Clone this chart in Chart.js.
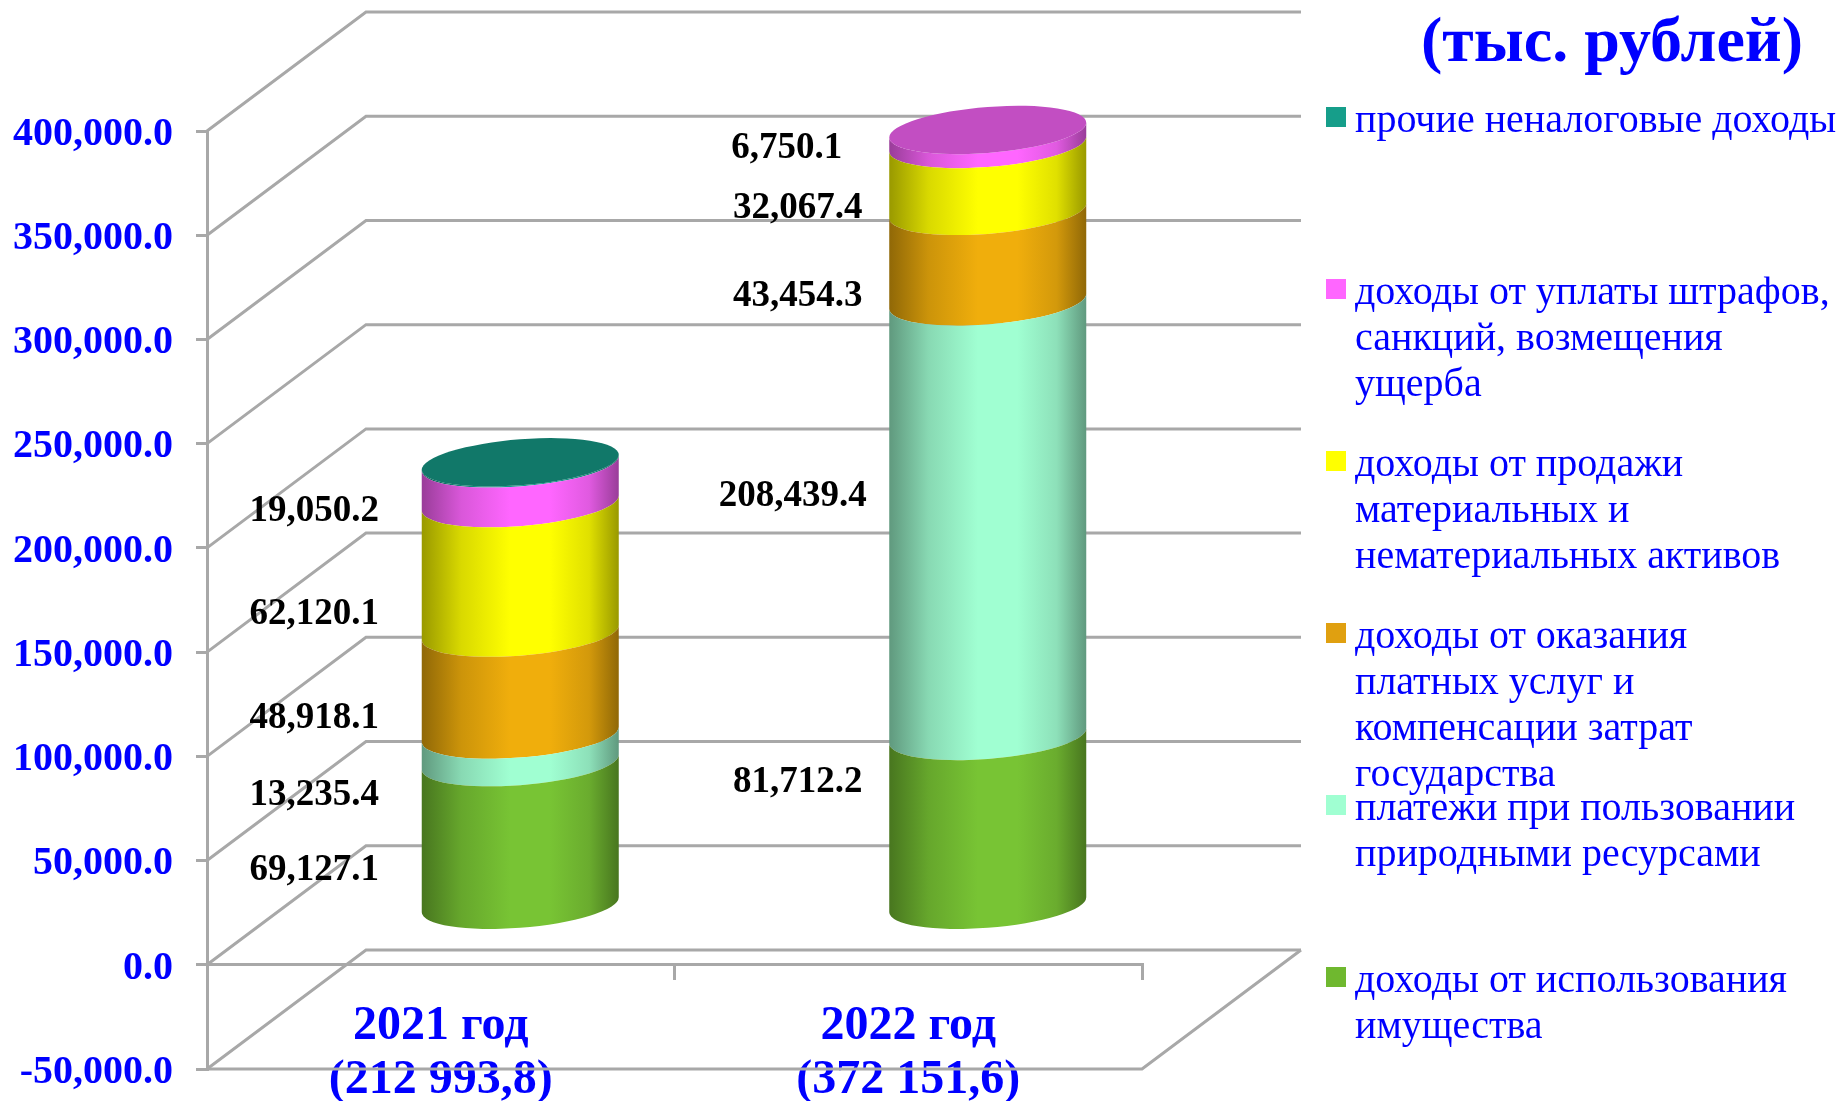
<!DOCTYPE html>
<html lang="ru">
<head>
<meta charset="utf-8">
<title>Неналоговые доходы</title>
<script src="https://cdn.jsdelivr.net/npm/chart.js@4/dist/chart.umd.min.js"></script>
<style>
    body { margin: 0; background: #fff; }
    canvas { display: block; }
</style>
</head>
<body>
<canvas id="chart" width="1840" height="1101"></canvas>
<script>
// Data, stacked bottom to top
const categories = [['2021 год', '(212 993,8)'], ['2022 год', '(372 151,6)']];
const imushchestvo = [69127.1, 81712.2];
const platezhi = [13235.4, 208439.4];
const uslugi = [48918.1, 43454.3];
const prodazha = [62120.1, 32067.4];
const shtrafy = [19050.2, 6750.1];
const prochie = [542.9, null];

const seriesNames = [
    'доходы от использования имущества',
    'платежи при пользовании природными ресурсами',
    'доходы от оказания платных услуг и компенсации затрат государства',
    'доходы от продажи материальных и нематериальных активов',
    'доходы от уплаты штрафов, санкций, возмещения ущерба',
    'прочие неналоговые доходы'
];
const seriesValues = [imushchestvo, platezhi, uslugi, prodazha, shtrafy, prochie];
const seriesColors = ['#78c434', '#a0ffd2', '#f0ae0c', '#ffff00', '#ff66ff', '#169e8a'];
const markerColors = ['#6fb82f', '#a0ffd2', '#e0a010', '#ffff00', '#ff66ff', '#169e8a'];

// legend lines, top entry first
const legendLines = [
    ['прочие неналоговые доходы'],
    ['доходы от уплаты штрафов,', 'санкций, возмещения', 'ущерба'],
    ['доходы от продажи', 'материальных и', 'нематериальных активов'],
    ['доходы от оказания', 'платных услуг и', 'компенсации затрат', 'государства'],
    ['платежи при пользовании', 'природными ресурсами'],
    ['доходы от использования', 'имущества']
];
const legendColors = [5, 4, 3, 2, 1, 0].map(i => markerColors[i]);
const unitsTitle = '(тыс. рублей)';

// where each value label sits relative to the middle of its segment
const labelShiftX = [[-206, -206, -206, -206, -206], [-190, -195, -190, -190, -201]];
const labelShiftY = [[37, 47, 35, 47, 28], [-38, -22, 40, 31, 11]];

const depthX = 159;
const depthY = -119;
const barShiftX = depthX / 2;
const barShiftY = depthY / 2 + 1;
const lidRadiusY = 23;
const gridColor = '#a8a8a8';
const serif = '"Liberation Serif", "Times New Roman", serif';

function shade(hex, f) {
    const n = parseInt(hex.slice(1), 16);
    return `rgb(${((n >> 16) & 255) * f},${((n >> 8) & 255) * f},${(n & 255) * f})`;
}

// front half of the tilted ellipse, added to the current path
function frontArc(ctx, cx, cy, a, leftToRight) {
    ctx.save();
    ctx.transform(1, -0.076, 0, 1, cx, cy);
    if (leftToRight) {
        ctx.ellipse(0, 0, a, lidRadiusY, 0, Math.PI, 0, true);
    } else {
        ctx.ellipse(0, 0, a, lidRadiusY, 0, 0, Math.PI);
    }
    ctx.restore();
}

// the axes must not reserve room for labels that overhang the plot
function noOverhang(scale) {
    scale.paddingTop = 0;
    scale.paddingBottom = 0;
    scale.paddingLeft = 0;
    scale.paddingRight = 0;
}

const wallsPlugin = {
    id: 'walls',
    beforeDatasetsDraw(chart) {
        const { ctx, chartArea: area, scales: { y } } = chart;
        ctx.save();
        ctx.strokeStyle = gridColor;
        ctx.lineWidth = 3;
        y.ticks.forEach(tick => {
            const py = y.getPixelForValue(tick.value);
            ctx.beginPath();
            ctx.moveTo(area.left, py);
            ctx.lineTo(area.left + depthX, py + depthY);
            ctx.lineTo(area.right + depthX, py + depthY);
            ctx.stroke();
        });
        const floorY = y.getPixelForValue(y.min);
        ctx.beginPath();
        ctx.moveTo(area.left, floorY);
        ctx.lineTo(area.right, floorY);
        ctx.lineTo(area.right + depthX, floorY + depthY);
        ctx.stroke();
        ctx.restore();
    }
};

const cylinderPlugin = {
    id: 'cylinder',
    beforeDatasetDraw(chart, args) {
        const ctx = chart.ctx;
        const color = seriesColors[args.index];
        args.meta.data.forEach((bar, i) => {
            if (seriesValues[args.index][i] === null) return;
            const a = bar.width / 2;
            const cx = bar.x + barShiftX;
            const g = ctx.createLinearGradient(cx - a, 0, cx + a, 0);
            g.addColorStop(0, shade(color, 0.6));
            g.addColorStop(0.2, shade(color, 0.85));
            g.addColorStop(0.45, shade(color, 1));
            g.addColorStop(0.65, shade(color, 1));
            g.addColorStop(0.85, shade(color, 0.88));
            g.addColorStop(1, shade(color, 0.6));
            ctx.beginPath();
            frontArc(ctx, cx, bar.base + barShiftY, a, false);
            frontArc(ctx, cx, bar.y + barShiftY, a, true);
            ctx.closePath();
            ctx.fillStyle = g;
            ctx.fill();
        });
        return false;
    },
    afterDatasetsDraw(chart) {
        const ctx = chart.ctx;
        categories.forEach((c, i) => {
            // lid takes the colour of the topmost series that has a value
            let top = seriesValues.length - 1;
            while (seriesValues[top][i] === null) top--;
            const bar = chart.getDatasetMeta(top).data[i];
            ctx.save();
            ctx.transform(1, -0.076, 0, 1, bar.x + barShiftX, bar.y + barShiftY);
            ctx.beginPath();
            ctx.ellipse(0, 0, bar.width / 2, lidRadiusY, 0, 0, Math.PI * 2);
            ctx.fillStyle = shade(seriesColors[top], 0.76);
            ctx.fill();
            ctx.restore();
        });
    }
};

const textPlugin = {
    id: 'texts',
    afterDraw(chart) {
        const ctx = chart.ctx;
        ctx.save();
        ctx.textBaseline = 'middle';

        // value labels
        ctx.textAlign = 'center';
        ctx.fillStyle = '#000';
        ctx.font = `bold 37px ${serif}`;
        categories.forEach((c, i) => {
            seriesValues.slice(0, 5).forEach((values, s) => {
                const bar = chart.getDatasetMeta(s).data[i];
                const text = values[i].toLocaleString('en-US', { minimumFractionDigits: 1 });
                ctx.fillText(text, bar.x + barShiftX + labelShiftX[i][s],
                    (bar.y + bar.base) / 2 + barShiftY + labelShiftY[i][s]);
            });
        });

        // units
        ctx.fillStyle = '#0000ff';
        ctx.font = `bold 64px ${serif}`;
        ctx.fillText(unitsTitle, 1612, 44);

        // legend
        ctx.textAlign = 'left';
        ctx.font = `40px ${serif}`;
        legendLines.forEach((lines, i) => {
            const y = 117 + i * 172;
            ctx.fillStyle = legendColors[i];
            ctx.fillRect(1326, y - 10, 20, 20);
            ctx.fillStyle = '#0000ff';
            lines.forEach((line, l) => ctx.fillText(line, 1355, y + 4 + l * 46));
        });
        ctx.restore();
    }
};

new Chart(document.getElementById('chart'), {
    type: 'bar',
    data: {
        labels: categories,
        datasets: seriesNames.map((name, i) => ({
            label: name,
            data: seriesValues[i],
            backgroundColor: seriesColors[i],
            barPercentage: 0.4214,
            categoryPercentage: 1
        }))
    },
    options: {
        responsive: false,
        animation: false,
        layout: { padding: { top: 131, right: 698, bottom: 32, left: 0 } },
        plugins: { legend: { display: false }, title: { display: false }, tooltip: { enabled: false } },
        scales: {
            x: {
                stacked: true,
                position: { y: 0 },
                afterFit(scale) { scale.height = 0; noOverhang(scale); },
                grid: { drawOnChartArea: false, color: gridColor, lineWidth: 3, tickLength: 14 },
                border: { color: gridColor, width: 3 },
                ticks: {
                    color: '#0000ff',
                    padding: 21,
                    maxRotation: 0,
                    autoSkip: false,
                    font: { family: serif, size: 48, weight: 'bold', lineHeight: 1.125 }
                }
            },
            y: {
                stacked: true,
                min: -50000,
                max: 400000,
                afterFit(scale) { scale.width = 207; noOverhang(scale); },
                grid: { drawOnChartArea: false, color: gridColor, lineWidth: 3, tickLength: 11 },
                border: { color: gridColor, width: 3 },
                ticks: {
                    stepSize: 50000,
                    color: '#0000ff',
                    padding: 23,
                    // empty first line with a small line height nudges the label down a little
                    font: { family: serif, size: 40, weight: 'bold', lineHeight: '7px' },
                    callback: value => ['', value.toLocaleString('en-US', { minimumFractionDigits: 1 })]
                }
            }
        }
    },
    plugins: [wallsPlugin, cylinderPlugin, textPlugin]
});
</script>
</body>
</html>
